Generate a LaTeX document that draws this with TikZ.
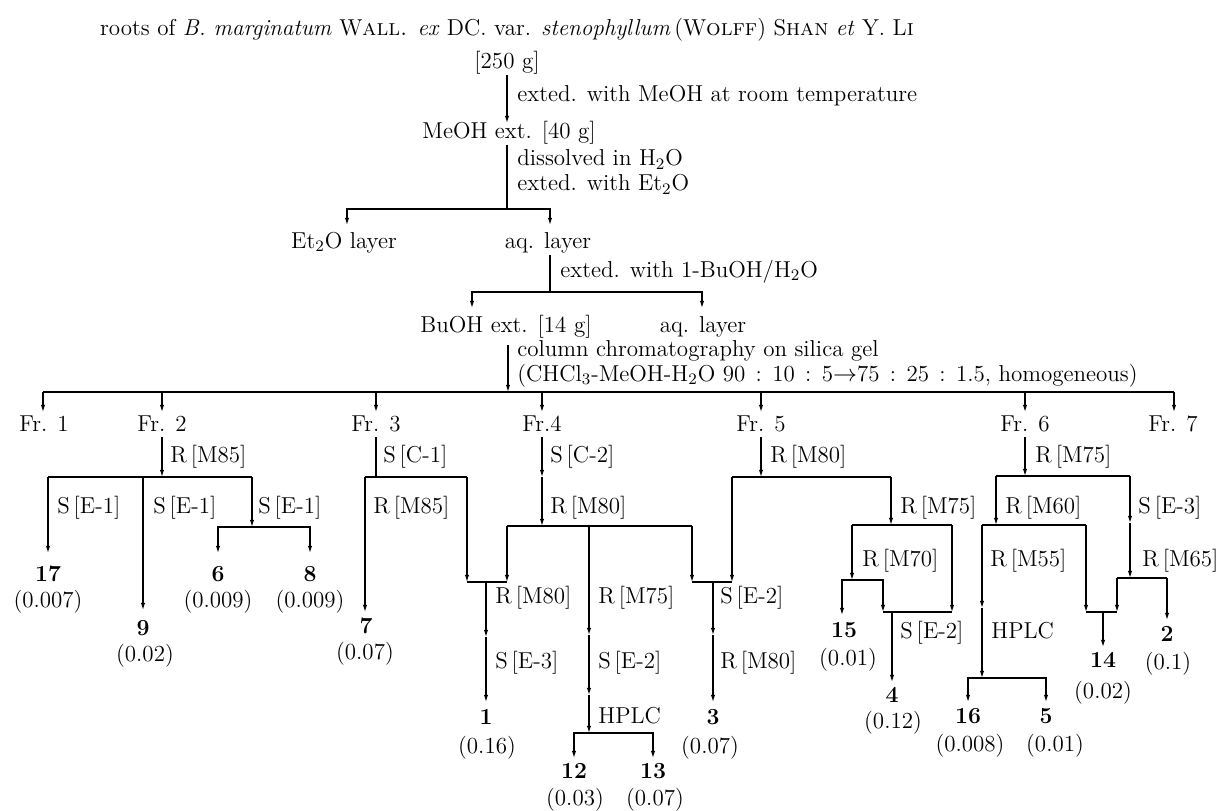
\documentclass[tikz,border=0pt]{standalone}
\usepackage{fontspec}
\usetikzlibrary{arrows.meta}
\begin{document}
\begin{tikzpicture}[x=0.5pt,y=-0.5pt,
  every node/.style={font=\fontsize{11.5}{12.5}\selectfont, inner sep=0pt},
  lab/.style={anchor=base west},
  lab2/.style={anchor=north west, align=left},
  txt/.style={anchor=base},
  ln/.style={line width=0.6pt},
  arr/.style={ln,-{Latex[length=3.6pt,width=2.2pt]}}]
\useasboundingbox (0,0) rectangle (1224,810);

% ---------- texts ----------
\node[txt] (title) at (507,35) {roots of \textit{B. marginatum} W\textsc{all.} \textit{ex} DC. var. \textit{stenophyllum}\,(W\textsc{olff}) S\textsc{han} \textit{et} Y. L\textsc{i}};
\node[txt] (w250) at (507,68) {[250 g]};
\node[lab] (t1) at (517,101) {exted. with MeOH at room temperature};
\node[txt] (meoh) at (509,138) {MeOH ext. [40 g]};
\node[lab2] (t2) at (517,149) {dissolved in H$_2$O\\exted. with Et$_2$O};
\node[txt] (et2o) at (344,248) {Et$_2$O layer};
\node[txt] (aq1) at (548,248) {aq. layer};
\node[lab] (t4) at (560,277) {exted. with 1-BuOH/H$_2$O};
\node[txt] (buoh) at (506,332) {BuOH ext. [14 g]};
\node[txt] (aq2) at (703,332) {aq. layer};
\node[lab2] (t5) at (517,340) {column chromatography on silica gel\\(CHCl$_3$-MeOH-H$_2$O 90\hspace{0.45em}:\hspace{0.45em}10\hspace{0.45em}:\hspace{0.45em}5$\rightarrow$75\hspace{0.45em}:\hspace{0.45em}25\hspace{0.45em}:\hspace{0.45em}1.5, homogeneous)};

\node[txt] (fr1) at (44,431) {Fr. 1};
\node[txt] (fr2) at (162,431) {Fr. 2};
\node[txt] (fr3) at (376,431) {Fr. 3};
\node[txt] (fr4) at (542,431) {Fr.4};
\node[txt] (fr5) at (761,431) {Fr. 5};
\node[txt] (fr6) at (1025,431) {Fr. 6};
\node[txt] (fr7) at (1173,431) {Fr. 7};

% Fr.2 labels
\node[lab] (l21) at (170,462) {R\,[M85]};
\node[lab] (l22) at (57,513) {S\,[E-1]};
\node[lab] (l23) at (153,513) {S\,[E-1]};
\node[lab] (l24) at (258,513) {S\,[E-1]};
\node[txt] (c17) at (48,581) {\textbf{17}};
\node[txt] (y17) at (48,607) {(0.007)};
\node[txt] (c6) at (218,581) {\textbf{6}};
\node[txt] (y6) at (218,607) {(0.009)};
\node[txt] (c8) at (310,581) {\textbf{8}};
\node[txt] (y8) at (310,607) {(0.009)};
\node[txt] (c9) at (143,635) {\textbf{9}};
\node[txt] (y9) at (145,661) {(0.02)};

% Fr.3 labels
\node[lab] (l31) at (383,462) {S\,[C-1]};
\node[lab] (l32) at (373,513) {R\,[M85]};
\node[txt] (c7) at (366,633) {\textbf{7}};
\node[txt] (y7) at (365,659) {(0.07)};

% Fr.4 labels
\node[lab] (l41) at (550,462) {S\,[C-2]};
\node[lab] (l42) at (550,513) {R\,[M80]};
\node[lab] (l43) at (495,603) {R\,[M80]};
\node[lab] (l44) at (495,668) {S\,[E-3]};
\node[lab] (l45) at (598,603) {R\,[M75]};
\node[lab] (l46) at (598,668) {S\,[E-2]};
\node[lab] (l47) at (598,723) {HPLC};
\node[lab] (l48) at (720,603) {S\,[E-2]};
\node[lab] (l49) at (720,668) {R\,[M80]};
\node[txt] (c1) at (486,724) {\textbf{1}};
\node[txt] (y1) at (487,753) {(0.16)};
\node[txt] (c12) at (574,778) {\textbf{12}};
\node[txt] (y12) at (575,805) {(0.03)};
\node[txt] (c13) at (653,778) {\textbf{13}};
\node[txt] (y13) at (655,805) {(0.07)};
\node[txt] (c3) at (713,724) {\textbf{3}};
\node[txt] (y3) at (710,753) {(0.07)};

% Fr.5 labels
\node[lab] (l51) at (770,462) {R\,[M80]};
\node[lab] (l52) at (900,513) {R\,[M75]};
\node[lab] (l53) at (862,566) {R\,[M70]};
\node[lab] (l54) at (900,638) {S\,[E-2]};
\node[txt] (c15) at (844,637) {\textbf{15}};
\node[txt] (y15) at (848,665) {(0.01)};
\node[txt] (c4) at (892,702) {\textbf{4}};
\node[txt] (y4) at (893,728) {(0.12)};

% Fr.6 labels
\node[lab] (l61) at (1035,462) {R\,[M75]};
\node[lab] (l62) at (1005,513) {R\,[M60]};
\node[lab] (l63) at (1138,513) {S\,[E-3]};
\node[lab] (l64) at (990,566) {R\,[M55]};
\node[lab] (l65) at (1142,566) {R\,[M65]};
\node[lab] (l66) at (991,638) {HPLC};
\node[txt] (c16) at (968,723) {\textbf{16}};
\node[txt] (y16) at (970,751) {(0.008)};
\node[txt] (c5) at (1046,723) {\textbf{5}};
\node[txt] (y5) at (1055,751) {(0.01)};
\node[txt] (c14) at (1103,667) {\textbf{14}};
\node[txt] (y14) at (1103,698) {(0.02)};
\node[txt] (c2) at (1167,641) {\textbf{2}};
\node[txt] (y2) at (1168,669) {(0.1)};

% ---------- coordinates ----------
\coordinate (a0) at (507,75);  \coordinate (a1) at (507,123);
\coordinate (b0) at (507,145); \coordinate (b1) at (507,209);
\coordinate (b2) at (347,225); \coordinate (b3) at (550,225);
\coordinate (d0) at (550,255); \coordinate (d1) at (550,292);
\coordinate (d2) at (472,308); \coordinate (d3) at (702,308);
\coordinate (e0) at (508,345); \coordinate (e1) at (508,392);
\coordinate (mL) at (43,392);  \coordinate (mR) at (1174,392);
\coordinate (f1) at (43,412);  \coordinate (f2) at (162,412);
\coordinate (f3) at (376,412); \coordinate (f4) at (542,412);
\coordinate (f5) at (761,412); \coordinate (f6) at (1025,412);
\coordinate (f7) at (1174,412);

% ---------- connectors ----------
\draw[arr] (a0) -- (a1);
\draw[ln] (b0) -- (b1);
\draw[arr] (b1) -| (b2);
\draw[arr] (b1) -| (b3);
\draw[ln] (d0) -- (d1);
\draw[arr] (d1) -| (d2);
\draw[arr] (d1) -| (d3);
\draw[arr] (e0) -- (e1);
\draw[ln] (mL) -- (mR);
\foreach \f in {f1,f2,f3,f4,f5,f6,f7} {\draw[arr] (mL -| \f) -- (\f);}

% Fr.2
\coordinate (g0) at (162,437); \coordinate (g1) at (162,477);
\coordinate (gL) at (48,477);  \coordinate (gR) at (252,477);
\coordinate (g17) at (48,553); \coordinate (g9a) at (143,477); \coordinate (g9) at (143,610);
\coordinate (g68) at (252,527); \coordinate (g6) at (218,553); \coordinate (g8) at (310,553);
\draw[arr] (g0) -- (g1);
\draw[ln] (gL) -- (gR);
\draw[arr] (gL) -- (g17);
\draw[arr] (g9a) -- (g9);
\draw[arr] (gR) -- (g68);
\draw[arr] (g68) -| (g6);
\draw[arr] (g68) -| (g8);

% Fr.3
\coordinate (h0) at (376,437); \coordinate (h1) at (376,477);
\coordinate (hL) at (365,477); \coordinate (hR) at (467,477);
\coordinate (h7) at (365,612); \coordinate (hJ) at (467,582);
\draw[ln] (h0) -- (h1);
\draw[ln] (hL) -- (hR);
\draw[arr] (hL) -- (h7);
\draw[arr] (hR) -- (hJ);

% Fr.4
\coordinate (k0) at (542,437); \coordinate (k1) at (542,477); \coordinate (k2) at (542,526);
\coordinate (kL) at (507,526); \coordinate (kR) at (692,526); \coordinate (kM) at (589,526);
\coordinate (kLJ) at (507,582); \coordinate (kRJ) at (692,582);
\coordinate (k1a) at (486,582); \coordinate (k1b) at (486,637); \coordinate (k1c) at (486,702);
\coordinate (kMa) at (589,635); \coordinate (kMb) at (589,695); \coordinate (kMc) at (589,733);
\coordinate (k12) at (574,758); \coordinate (k13) at (653,758);
\coordinate (k3a) at (713,582); \coordinate (k3b) at (713,635); \coordinate (k3c) at (713,702);
\draw[arr] (k0) -- (k1);
\draw[arr] (k1) -- (k2);
\draw[ln] (kL) -- (kR);
\draw[arr] (kL) -- (kLJ);
\draw[arr] (kR) -- (kRJ);
\draw[ln] (hJ) -- (kLJ);
\draw[arr] (k1a) -- (k1b);
\draw[arr] (k1b) -- (k1c);
\draw[arr] (kM) -- (kMa);
\draw[arr] (kMa) -- (kMb);
\draw[arr] (kMb) -- (kMc);
\draw[arr] (kMc) -| (k12);
\draw[arr] (kMc) -| (k13);

% Fr.5
\coordinate (p0) at (761,437); \coordinate (p1) at (761,477);
\coordinate (pL) at (732,477); \coordinate (pR) at (891,477);
\coordinate (pLJ) at (732,582); \coordinate (pR1) at (891,525);
\coordinate (qL) at (852,525); \coordinate (qR) at (952,525);
\coordinate (qL1) at (852,580); \coordinate (q15) at (842,615); \coordinate (qM) at (883,612);
\coordinate (qR1) at (952,612); \coordinate (q4a) at (892,612); \coordinate (q4) at (892,682);
\draw[arr] (p0) -- (p1);
\draw[ln] (pL) -- (pR);
\draw[arr] (pL) -- (pLJ);
\draw[ln] (kRJ) -- (pLJ);
\draw[arr] (k3a) -- (k3b);
\draw[arr] (k3b) -- (k3c);
\draw[arr] (pR) -- (pR1);
\draw[ln] (qL) -- (qR);
\draw[arr] (qL) -- (qL1);
\draw[arr] (qL1) -| (q15);
\draw[arr] (qL1) -| (qM);
\draw[arr] (qR) -- (qR1);
\draw[ln] (qM) -- (qR1);
\draw[arr] (q4a) -- (q4);

% Fr.6
\coordinate (r0) at (1025,437); \coordinate (r1) at (1025,476);
\coordinate (rL) at (996,476); \coordinate (rR) at (1130,476);
\coordinate (rL1) at (996,525);
\coordinate (sL) at (982,525); \coordinate (sR) at (1086,525);
\coordinate (sLa) at (982,608); \coordinate (sLb) at (982,678);
\coordinate (s16) at (968,702); \coordinate (s5) at (1046,702);
\coordinate (sRJ) at (1086,612); \coordinate (tJ) at (1117,612);
\coordinate (t14a) at (1103,612); \coordinate (t14) at (1103,647);
\coordinate (rRa) at (1130,523); \coordinate (rRb) at (1130,578);
\coordinate (uL) at (1117,578); \coordinate (uR) at (1167,578); \coordinate (u2) at (1167,620);
\draw[arr] (r0) -- (r1);
\draw[ln] (rL) -- (rR);
\draw[arr] (rL) -- (rL1);
\draw[ln] (sL) -- (sR);
\draw[arr] (sL) -- (sLa);
\draw[arr] (sLa) -- (sLb);
\draw[arr] (sLb) -| (s16);
\draw[arr] (sLb) -| (s5);
\draw[arr] (sR) -- (sRJ);
\draw[ln] (sRJ) -- (tJ);
\draw[arr] (t14a) -- (t14);
\draw[arr] (rR) -- (rRa);
\draw[arr] (rRa) -- (rRb);
\draw[ln] (uL) -- (uR);
\draw[arr] (uL) -- (tJ);
\draw[arr] (uR) -- (u2);
\end{tikzpicture}
\end{document}
